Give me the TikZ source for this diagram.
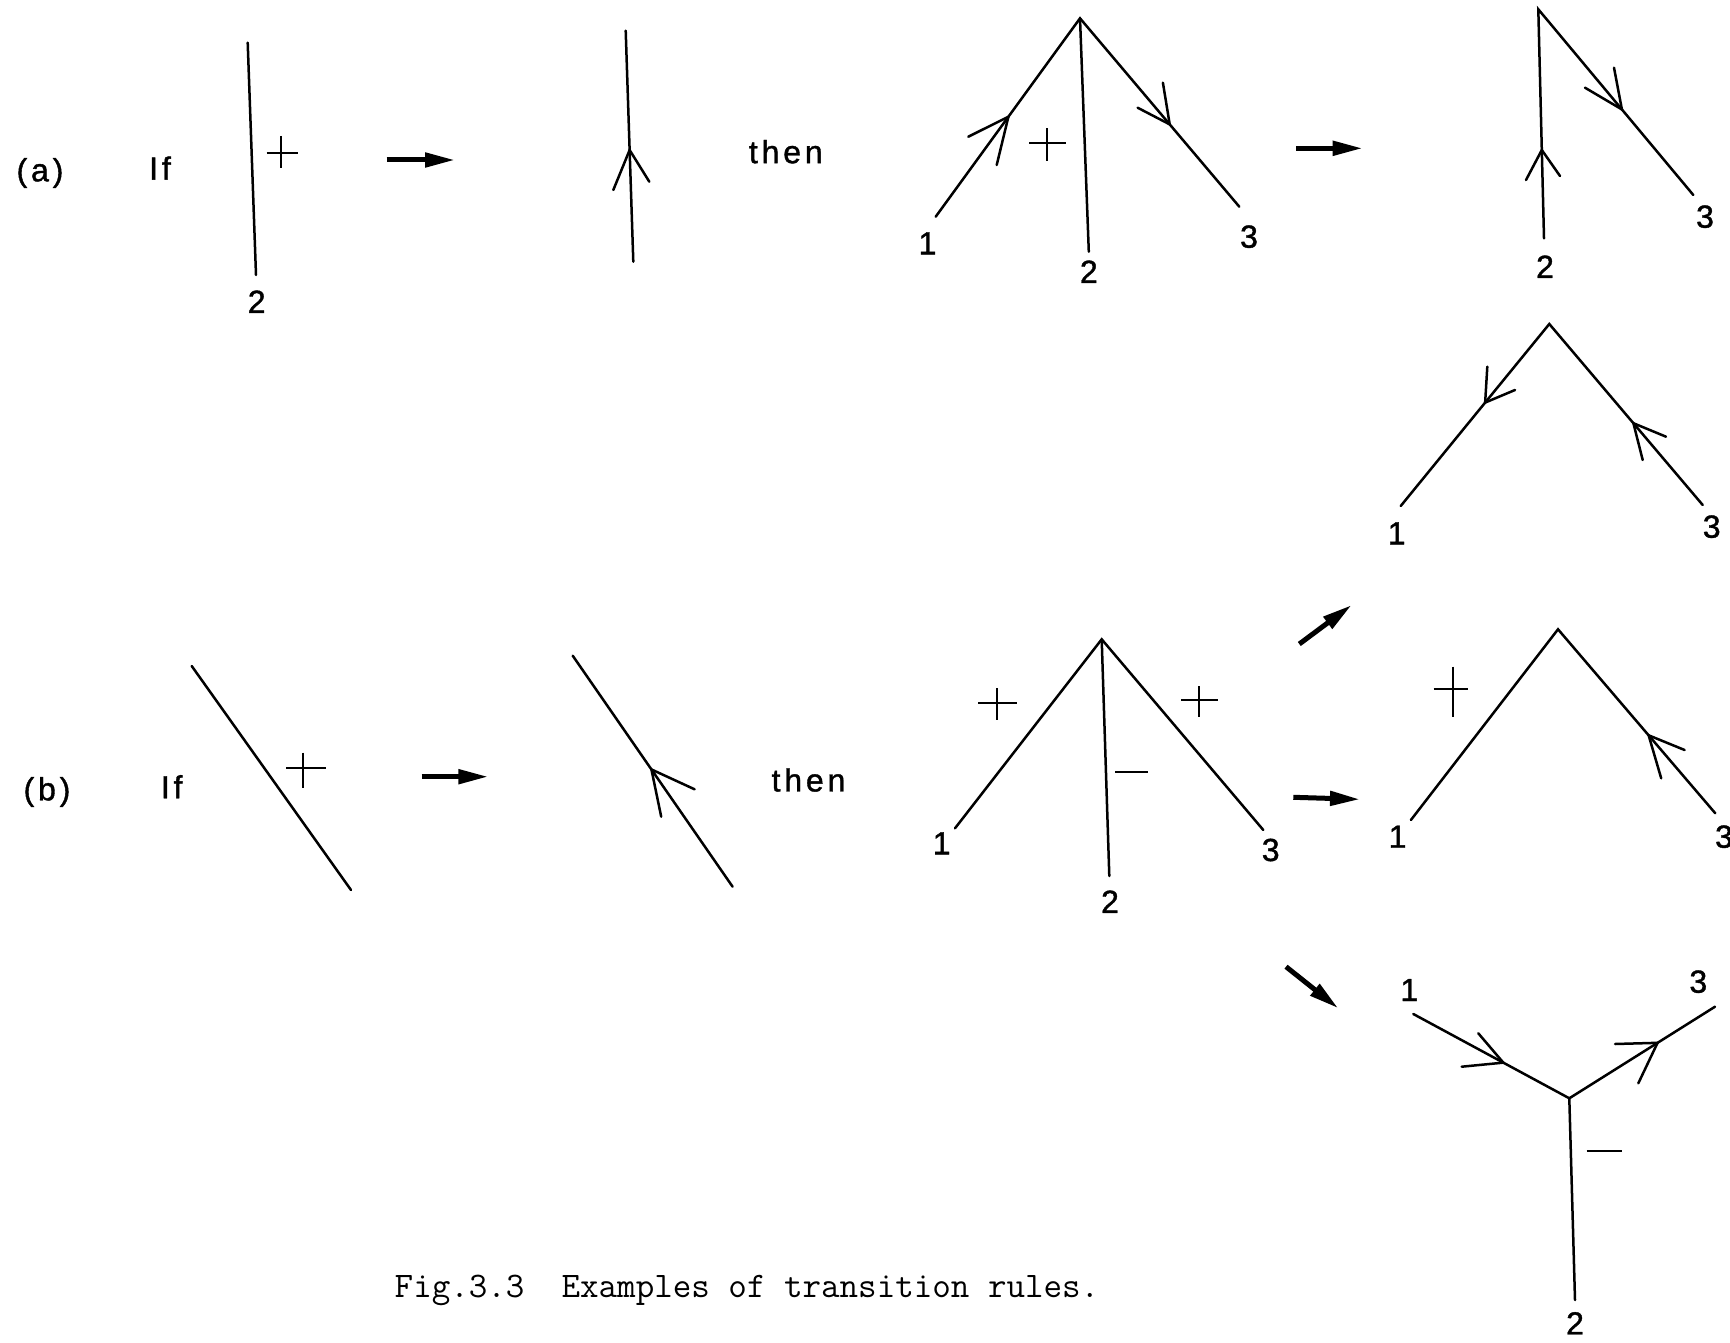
\documentclass[tikz,border=0pt]{standalone}
\usepackage{fontspec}
\newfontfamily\labfont[FakeBold=1.2]{Liberation Sans}
\newfontfamily\spacedfont[LetterSpace=12,FakeBold=1.2]{Liberation Sans}
\usetikzlibrary{arrows.meta,calc}
\tikzset{
  edge/.style={line width=2.5pt, line cap=round},
  sign/.style={line width=2pt},
  barb/.style={line width=2.5pt, line cap=round, line join=miter},
  bigarrow/.style={line width=5pt, -{Triangle[length=30pt,width=14pt]}},
  lab/.style={inner sep=0pt, font=\labfont\fontsize{32}{36}\selectfont},
  word/.style={inner sep=0pt, font=\spacedfont\fontsize{32}{36}\selectfont},
  captext/.style={inner sep=0pt, font=\ttfamily\fontsize{36}{40}\selectfont\addfontfeature{FakeBold=1}},
}
\begin{document}
\begin{tikzpicture}[x=1pt,y=-1pt]
\fill[white] (0,0) rectangle (1730,1343);
\useasboundingbox (0,0) rectangle (1730,1343);

% ================= (a) =================
\node[word] (la) at (40,173) {(a)};
\node[word] (ifa) at (160,168) {If};
% single line with +
\coordinate (a1t) at (247.7,42.7);
\coordinate (a1b) at (256,275);
\draw[edge] (a1t) -- (a1b);
\draw[sign] (266.7,153.3) -- (297.7,153.3) (281,136) -- (281,168);
\node[lab] (a1n2) at (256.7,301.7) {2};
% arrow
\coordinate (ar1s) at (386.7,160);
\coordinate (ar1e) at (455,160);
\draw[bigarrow] (ar1s) -- (ar1e);
% oriented line
\coordinate (a2t) at (625.7,30.7);
\coordinate (a2b) at (633.3,261.7);
\draw[edge] (a2t) -- (a2b);
\coordinate (a2k) at ($(a2t)!(630.7,150)!(a2b)$);
\draw[barb] (613.3,190) -- (a2k) -- (649.3,181.7);
\node[word] (thena) at (785.8,151.7) {then};
% tree T1
\coordinate (t1a) at (1080,18.3);
\coordinate (t1l) at (935.7,216.7);
\coordinate (t1m) at (1088.8,251.7);
\coordinate (t1r) at (1239.3,206.7);
\draw[edge] (t1l) -- (t1a) -- (t1r);
\draw[edge] (t1a) -- (t1m);
\coordinate (t1kl) at ($(t1l)!(1008.3,116.7)!(t1a)$);
\draw[barb] (968.3,136.7) -- (t1kl) -- (996.7,165);
\coordinate (t1kr) at ($(t1a)!(1170.2,124)!(t1r)$);
\draw[barb] (1137.6,107.7) -- (t1kr) -- (1162.9,82.7);
\draw[sign] (1029.3,143.3) -- (1066,143.3) (1047.3,128.3) -- (1047.3,160.7);
\node[lab] (t1n1) at (927.5,243.3) {1};
\node[lab] (t1n2) at (1088.8,271.7) {2};
\node[lab] (t1n3) at (1249,236.7) {3};
% arrow
\coordinate (ar2s) at (1296,148.3);
\coordinate (ar2e) at (1362.7,148.3);
\draw[bigarrow] (ar2s) -- (ar2e);
% tree T2
\coordinate (t2a) at (1538.3,9.3);
\coordinate (t2m) at (1544,238.3);
\coordinate (t2r) at (1693.3,195);
\draw[edge] (t2m) -- (t2a) -- (t2r);
\coordinate (t2km) at ($(t2a)!(1542.7,150)!(t2m)$);
\draw[barb] (1526,180) -- (t2km) -- (1560,176);
\coordinate (t2kr) at ($(t2a)!(1623.3,108.3)!(t2r)$);
\draw[barb] (1585,87.7) -- (t2kr) -- (1614,67.7);
\node[lab] (t2n2) at (1545,266.7) {2};
\node[lab] (t2n3) at (1705,216.7) {3};

% ================= top right tree T3 =================
\coordinate (t3a) at (1549.3,324);
\coordinate (t3l) at (1400.7,506);
\coordinate (t3r) at (1702.7,505);
\draw[edge] (t3l) -- (t3a) -- (t3r);
\coordinate (t3kl) at ($(t3a)!(1486,403.3)!(t3l)$);
\draw[barb] (1487.3,366.7) -- (t3kl) -- (1515,390);
\coordinate (t3kr) at ($(t3a)!(1633.3,423.3)!(t3r)$);
\draw[barb] (1666,436.7) -- (t3kr) -- (1642.7,460);
\node[lab] (t3n1) at (1396.7,533.3) {1};
\node[lab] (t3n3) at (1711.7,526.7) {3};
\coordinate (ar4s) at (1299.3,644);
\coordinate (ar4e) at (1351.7,605);
\draw[bigarrow] (ar4s) -- (ar4e);

% ================= (b) =================
\node[word] (lb) at (47,792) {(b)};
\node[word] (ifb) at (171.7,786.7) {If};
\coordinate (b1t) at (191.7,666);
\coordinate (b1b) at (351,890);
\draw[edge] (b1t) -- (b1b);
\draw[sign] (286,767.7) -- (326,767.7) (302.7,752.7) -- (302.7,788.3);
\coordinate (ar3s) at (421.7,776.7);
\coordinate (ar3e) at (488.3,776.7);
\draw[bigarrow] (ar3s) -- (ar3e);
\coordinate (b2t) at (572.7,655.7);
\coordinate (b2b) at (732.6,886.7);
\draw[edge] (b2t) -- (b2b);
\coordinate (b2k) at ($(b2t)!(653.1,768.3)!(b2b)$);
\draw[barb] (694.6,789.3) -- (b2k) -- (661.2,816.7);
\node[word] (thenb) at (808.5,780) {then};
% tree T4
\coordinate (t4a) at (1101.7,639.3);
\coordinate (t4l) at (955,828.3);
\coordinate (t4m) at (1109.3,876);
\coordinate (t4r) at (1263.3,830);
\draw[edge] (t4l) -- (t4a) -- (t4r);
\draw[edge] (t4a) -- (t4m);
\draw[sign] (978.3,703.3) -- (1016.7,703.3) (997.3,688.3) -- (997.3,720);
\draw[sign] (1181,700) -- (1218.3,700) (1199.3,686) -- (1199.3,716.7);
\draw[sign] (1115,771.7) -- (1148.3,771.7);
\node[lab] (t4n1) at (941.7,843.3) {1};
\node[lab] (t4n2) at (1110,901.7) {2};
\node[lab] (t4n3) at (1270.7,850) {3};
\coordinate (ar5s) at (1293.3,797.3);
\coordinate (ar5e) at (1360,799.3);
\draw[bigarrow] (ar5s) -- (ar5e);
% tree T5
\coordinate (t5a) at (1558,629.3);
\coordinate (t5l) at (1410.9,820);
\coordinate (t5r) at (1715.3,813.3);
\draw[edge] (t5l) -- (t5a) -- (t5r);
\draw[sign] (1433.6,689) -- (1467.5,689) (1453.2,666.7) -- (1453.2,716.7);
\coordinate (t5kr) at ($(t5a)!(1649,735)!(t5r)$);
\draw[barb] (1684.6,750) -- (t5kr) -- (1661.2,778.3);
\node[lab] (t5n1) at (1397.6,836.7) {1};
\node[lab] (t5n3) at (1724,836.7) {3};
\coordinate (ar6s) at (1286,966.7);
\coordinate (ar6e) at (1338.3,1008.3);
\draw[bigarrow] (ar6s) -- (ar6e);
% tree T6
\coordinate (t6j) at (1569.3,1098.3);
\coordinate (t6p1) at (1413.3,1014);
\coordinate (t6p3) at (1715,1006.7);
\coordinate (t6p2) at (1575,1300);
\draw[edge] (t6p1) -- (t6j) -- (t6p3);
\draw[edge] (t6j) -- (t6p2);
\coordinate (t6k1) at ($(t6p1)!(1503.3,1062.7)!(t6j)$);
\draw[barb] (1478.3,1033.3) -- (t6k1) -- (1461.7,1066.7);
\coordinate (t6k3) at ($(t6j)!(1658.3,1044)!(t6p3)$);
\draw[barb] (1615,1044) -- (t6k3) -- (1638.3,1083.3);
\draw[sign] (1586.7,1151) -- (1621.7,1151);
\node[lab] (t6n1) at (1409.3,990) {1};
\node[lab] (t6n3) at (1698.3,981.7) {3};
\node[lab] (t6n2) at (1575,1323.3) {2};

% caption
\node[captext] (caption) at (747,1290) {Fig.3.3~~Examples of transition rules.};
\end{tikzpicture}
\end{document}
